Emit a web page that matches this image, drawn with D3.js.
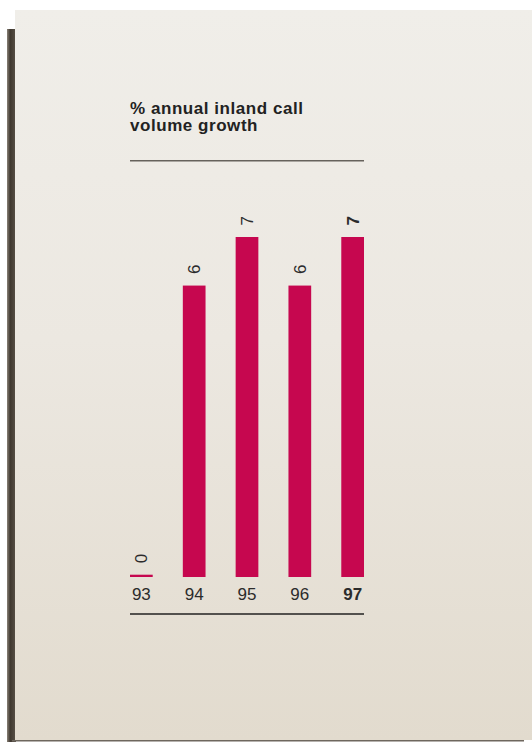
<!DOCTYPE html>
<html>
<head>
<meta charset="utf-8">
<script src="https://cdn.jsdelivr.net/npm/d3@7"></script>
<style>
  html, body { margin: 0; padding: 0; background: #fff; }
  svg { display: block; }
</style>
</head>
<body>
<div id="chart"></div>
<script>
const years = ['93', '94', '95', '96', '97'];
const growth = [0, 6, 7, 6, 7];
const titleLines = ['% annual inland call', 'volume growth'];
const highlightYear = '97';

const W = 532, H = 744;

const svg = d3.select('#chart')
    .append('svg')
    .attr('width', W)
    .attr('height', H);

const defs = svg.append('defs');

// paper tone, lighter at top
const paperGrad = defs.append('linearGradient')
    .attr('id', 'paper')
    .attr('x1', 0).attr('y1', 0).attr('x2', 0).attr('y2', 1);
paperGrad.append('stop').attr('offset', 0).attr('stop-color', '#f0eee9');
paperGrad.append('stop').attr('offset', 0.45).attr('stop-color', '#ece8e1');
paperGrad.append('stop').attr('offset', 1).attr('stop-color', '#e2dbce');

// dark spine on the left
const edgeGrad = defs.append('linearGradient')
    .attr('id', 'edge')
    .attr('x1', 0).attr('y1', 0).attr('x2', 1).attr('y2', 0);
edgeGrad.append('stop').attr('offset', 0).attr('stop-color', '#8a8278');
edgeGrad.append('stop').attr('offset', 0.35).attr('stop-color', '#3f382f');
edgeGrad.append('stop').attr('offset', 1).attr('stop-color', '#5a5248');

svg.append('rect')
    .attr('x', 7).attr('y', 29)
    .attr('width', 9).attr('height', 713)
    .attr('fill', 'url(#edge)');

svg.append('rect')
    .attr('x', 15).attr('y', 10)
    .attr('width', W - 15).attr('height', 730)
    .attr('fill', 'url(#paper)');

svg.append('rect')
    .attr('x', 12).attr('y', 740)
    .attr('width', W - 20).attr('height', 1.5)
    .attr('fill', '#6e675e');

// Escalas
const x = d3.scaleBand()
    .domain(years)
    .range([130, 364])
    .paddingInner(0.57)
    .paddingOuter(0);

const y = d3.scaleLinear()
    .domain([0, 7])
    .range([577, 237]);

const g = svg.append('g');

// Title
g.append('text')
    .attr('x', x.range()[0])
    .attr('y', 113.5)
    .attr('font-family', 'Liberation Sans, Arial, sans-serif')
    .attr('font-weight', 'bold')
    .attr('font-size', 17)
    .attr('letter-spacing', 0.55)
    .attr('fill', '#222')
    .selectAll('tspan')
    .data(titleLines)
    .join('tspan')
    .attr('x', x.range()[0])
    .attr('dy', (d, i) => i === 0 ? 0 : 17.4)
    .text(d => d);

// rules
g.append('line')
    .attr('x1', x.range()[0]).attr('x2', x.range()[1])
    .attr('y1', 160.7).attr('y2', 160.7)
    .attr('stroke', '#66625c')
    .attr('stroke-width', 1.4);

g.append('line')
    .attr('x1', x.range()[0]).attr('x2', x.range()[1])
    .attr('y1', 614).attr('y2', 614)
    .attr('stroke', '#222')
    .attr('stroke-width', 1.3);

const data = years.map((yr, i) => ({year: yr, value: growth[i]}));

// Bars (zero drawn as a thin stub)
g.selectAll('rect.bar')
    .data(data)
    .join('rect')
    .attr('class', 'bar')
    .attr('x', d => x(d.year))
    .attr('width', x.bandwidth())
    .attr('y', d => Math.min(y(d.value), y(0) - 2.3))
    .attr('height', d => Math.max(y(0) - y(d.value), 2.3))
    .attr('fill', '#c6074f');

// value labels, rotated
g.selectAll('text.val')
    .data(data)
    .join('text')
    .attr('class', 'val')
    .attr('transform', d => {
        const top = Math.min(y(d.value), y(0) - 2.3);
        return `translate(${x(d.year) + x.bandwidth() / 2},${top - 11.5}) rotate(-90)`;
    })
    .attr('dy', '0.36em')
    .attr('font-family', 'Liberation Sans, Arial, sans-serif')
    .attr('font-size', 17)
    .attr('font-weight', d => d.year === highlightYear ? 'bold' : 'normal')
    .attr('fill', '#2b2b2b')
    .text(d => d.value);

// year labels
g.selectAll('text.yr')
    .data(data)
    .join('text')
    .attr('class', 'yr')
    .attr('x', d => x(d.year) + x.bandwidth() / 2)
    .attr('y', 600)
    .attr('text-anchor', 'middle')
    .attr('font-family', 'Liberation Sans, Arial, sans-serif')
    .attr('font-size', 17)
    .attr('font-weight', d => d.year === highlightYear ? 'bold' : 'normal')
    .attr('fill', '#2b2b2b')
    .text(d => d.year);
</script>
</body>
</html>
